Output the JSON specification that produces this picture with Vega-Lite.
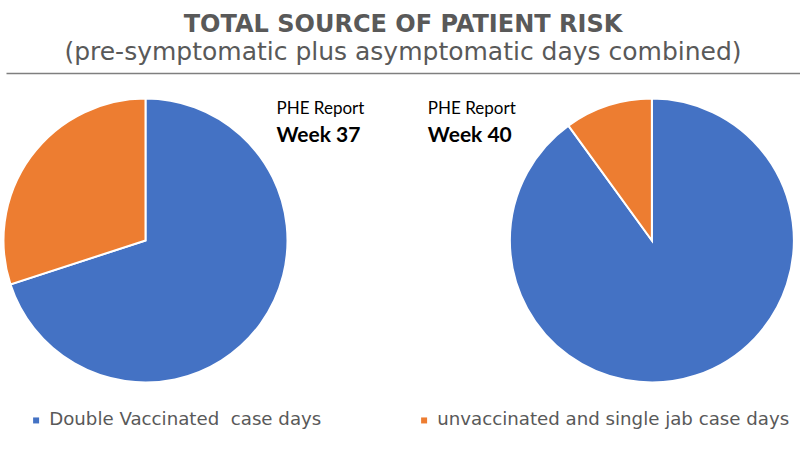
{
  "$schema": "https://vega.github.io/schema/vega-lite/v6.json",
  "description": "Total source of patient risk, PHE report week 37 vs week 40.",
  "width": 800,
  "height": 450,
  "autosize": {"type": "fit", "contains": "padding"},
  "padding": {"left": 0, "right": 0, "top": 13, "bottom": 0},
  "background": "white",
  "title": {
    "text": "TOTAL SOURCE OF PATIENT RISK",
    "subtitle": "(pre-symptomatic plus asymptomatic days combined)",
    "anchor": "middle",
    "font": "DejaVu Sans",
    "fontSize": 24,
    "fontWeight": "bold",
    "color": "#595959",
    "subtitleFont": "DejaVu Sans",
    "subtitleFontSize": 25,
    "subtitleColor": "#595959",
    "subtitlePadding": 3,
    "offset": 8
  },
  "config": {"view": {"stroke": null}},
  "layer": [
    {
      "data": {
        "values": [
          {"report": "Week 37", "category": "Double Vaccinated\u00a0 case days", "share": 70},
          {"report": "Week 37", "category": "unvaccinated and single jab case days", "share": 30},
          {"report": "Week 40", "category": "Double Vaccinated\u00a0 case days", "share": 90},
          {"report": "Week 40", "category": "unvaccinated and single jab case days", "share": 10}
        ]
      },
      "transform": [
        {"stack": "share", "groupby": ["report"], "sort": [{"field": "category"}], "as": ["start", "end"]}
      ],
      "mark": {"type": "arc", "outerRadius": 142, "stroke": "white", "strokeWidth": 2},
      "encoding": {
        "x": {
          "field": "report",
          "type": "nominal",
          "scale": {"type": "point", "domain": ["Week 37", "Week 40"], "padding": 0.284, "align": 0.485},
          "axis": {"orient": "top", "labels": false, "ticks": false, "title": null, "grid": false, "domainColor": "#7f7f7f", "domainWidth": 1.5}
        },
        "theta": {"field": "start", "type": "quantitative", "stack": null, "scale": {"domain": [0, 100]}},
        "theta2": {"field": "end"},
        "color": {
          "field": "category",
          "type": "nominal",
          "title": null,
          "scale": {
            "domain": ["Double Vaccinated\u00a0 case days", "unvaccinated and single jab case days"],
            "range": ["#4472C4", "#ED7D31"]
          },
          "legend": {
            "orient": "bottom",
            "direction": "horizontal",
            "symbolType": "square",
            "symbolSize": 36,
            "symbolStrokeWidth": 0,
            "labelFont": "DejaVu Sans",
            "labelFontSize": 18.2,
            "labelColor": "#595959",
            "labelLimit": 400,
            "labelOffset": 4,
            "columnPadding": 93,
            "padding": 21,
            "offset": -18
          }
        }
      }
    },
    {
      "data": {"values": [{"report": "Week 37", "source": "PHE Report"}, {"report": "Week 40", "source": "PHE Report"}]},
      "transform": [{"filter": "datum.report == 'Week 37'"}],
      "mark": {"type": "text", "font": "Lato", "fontSize": 17, "color": "black", "align": "left", "baseline": "alphabetic", "dx": 131, "dy": -127},
      "encoding": {"x": {"field": "report", "type": "nominal"}, "text": {"field": "source"}}
    },
    {
      "data": {"values": [{"report": "Week 37", "source": "PHE Report"}, {"report": "Week 40", "source": "PHE Report"}]},
      "transform": [{"filter": "datum.report == 'Week 37'"}],
      "mark": {"type": "text", "font": "Lato", "fontSize": 21, "fontWeight": "bold", "color": "black", "align": "left", "baseline": "alphabetic", "dx": 131, "dy": -99},
      "encoding": {"x": {"field": "report", "type": "nominal"}, "text": {"field": "report"}}
    },
    {
      "data": {"values": [{"report": "Week 37", "source": "PHE Report"}, {"report": "Week 40", "source": "PHE Report"}]},
      "transform": [{"filter": "datum.report == 'Week 40'"}],
      "mark": {"type": "text", "font": "Lato", "fontSize": 17, "color": "black", "align": "left", "baseline": "alphabetic", "dx": -224, "dy": -127},
      "encoding": {"x": {"field": "report", "type": "nominal"}, "text": {"field": "source"}}
    },
    {
      "data": {"values": [{"report": "Week 37", "source": "PHE Report"}, {"report": "Week 40", "source": "PHE Report"}]},
      "transform": [{"filter": "datum.report == 'Week 40'"}],
      "mark": {"type": "text", "font": "Lato", "fontSize": 21, "fontWeight": "bold", "color": "black", "align": "left", "baseline": "alphabetic", "dx": -224, "dy": -99},
      "encoding": {"x": {"field": "report", "type": "nominal"}, "text": {"field": "report"}}
    }
  ]
}
